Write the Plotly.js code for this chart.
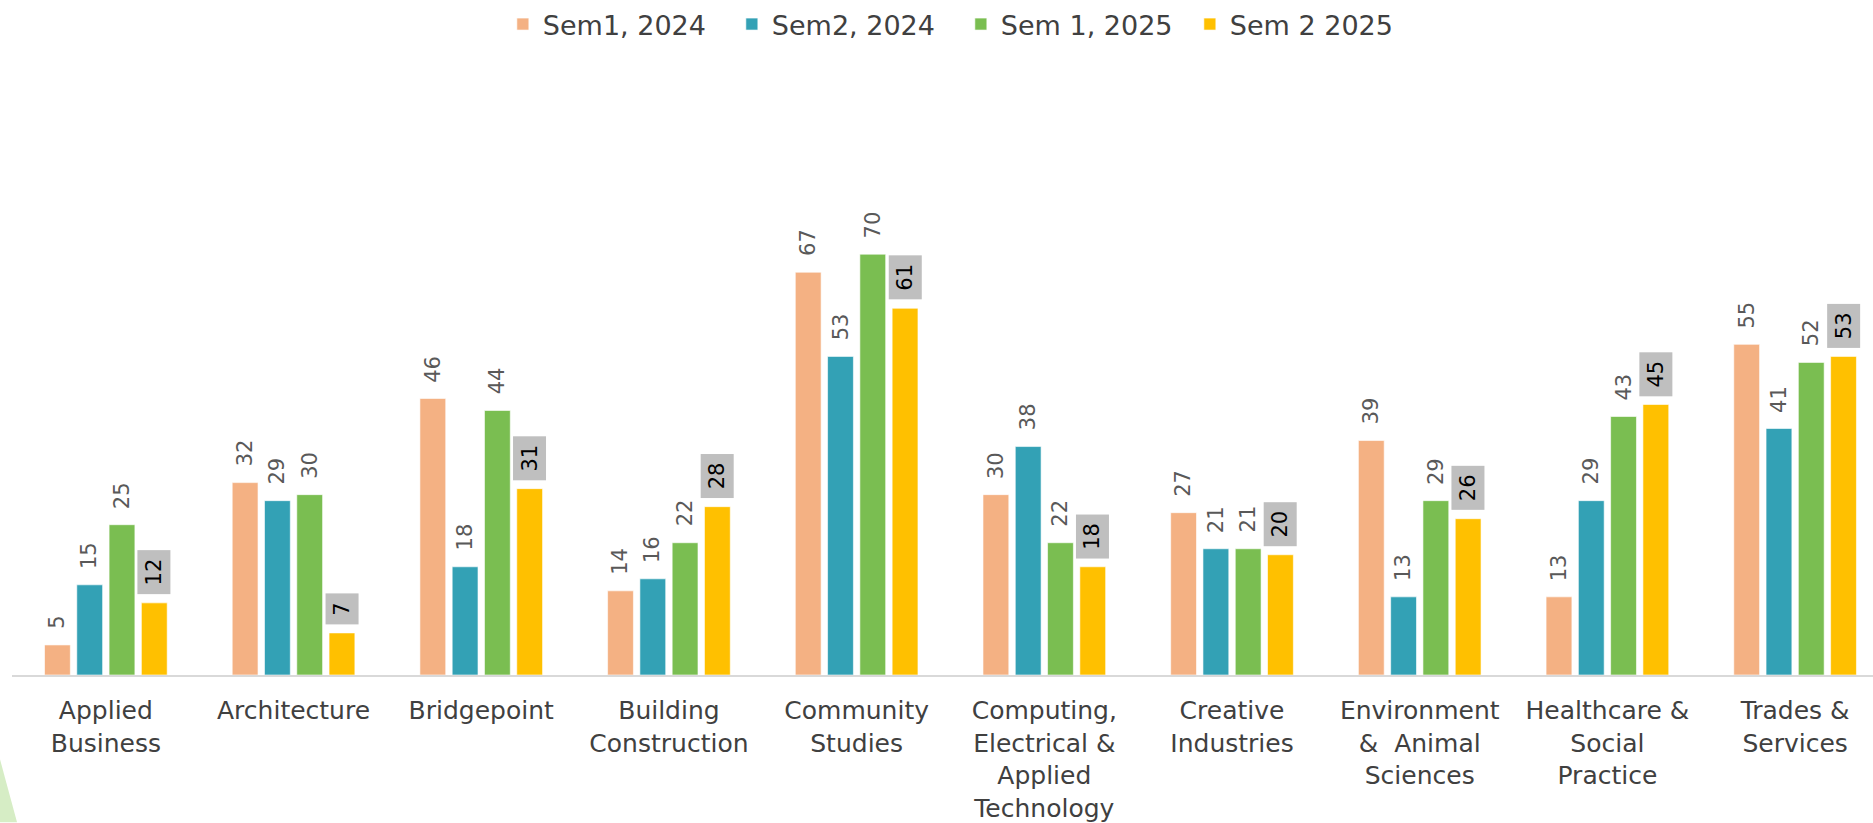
<!DOCTYPE html>
<html>
<head>
<meta charset="utf-8">
<script src="https://cdn.plot.ly/plotly-3.0.1.min.js"></script>
<style>
  html, body { margin: 0; padding: 0; background: #ffffff; }
  #chart { width: 1873px; height: 823px; }
</style>
</head>
<body>
<div id="chart"></div>
<script>
// categories (x axis)
var categories = [
  "Applied<br>Business",
  "Architecture",
  "Bridgepoint",
  "Building<br>Construction",
  "Community<br>Studies",
  "Computing,<br>Electrical &<br>Applied<br>Technology",
  "Creative<br>Industries",
  "Environment<br>& \u00a0Animal<br>Sciences",
  "Healthcare &<br>Social<br>Practice",
  "Trades &<br>Services"
];

// series
var seriesNames = ["Sem1, 2024", "Sem2, 2024", "Sem 1, 2025", "Sem 2 2025"];
var sem1_2024 = [5, 32, 46, 14, 67, 30, 27, 39, 13, 55];
var sem2_2024 = [15, 29, 18, 16, 53, 38, 21, 13, 29, 41];
var sem1_2025 = [25, 30, 44, 22, 70, 22, 21, 29, 43, 52];
var sem2_2025 = [12, 7, 31, 28, 61, 18, 20, 26, 45, 53];

var seriesValues = [sem1_2024, sem2_2024, sem1_2025, sem2_2025];
var seriesColors = ["#F4B183", "#33A1B5", "#7ABE51", "#FFC000"];

var BARGAP = 0.312;
var GROUPGAP = 0.2;
var pitch = (1 - BARGAP) / seriesValues.length;

var traces = [];
var annotations = [];

for (var s = 0; s < seriesValues.length; s++) {
  traces.push({
    type: 'bar',
    name: seriesNames[s],
    x: categories,
    y: seriesValues[s],
    marker: {
      color: seriesColors[s],
      line: { color: 'rgba(255,255,255,0.6)', width: 1 }
    },
    hoverinfo: 'x+y+name'
  });

  // data labels, rotated; last series gets the grey box
  var offset = (s - (seriesValues.length - 1) / 2) * pitch;
  var boxed = (s == seriesValues.length - 1);
  for (var i = 0; i < categories.length; i++) {
    var v = seriesValues[s][i];
    annotations.push({
      xref: 'x', yref: 'y',
      x: i + offset,
      y: v,
      text: boxed ? '\u2009' + v + '\u2009' : String(v),
      textangle: -90,
      showarrow: false,
      xanchor: 'center',
      yanchor: 'bottom',
      yshift: boxed ? 8 : 14,
      bgcolor: boxed ? '#BFBFBF' : 'rgba(0,0,0,0)',
      borderpad: boxed ? 4 : 1,
      font: { family: 'DejaVu Sans, Verdana, sans-serif', size: 21, color: boxed ? '#000000' : '#595959' }
    });
  }
}

var layout = {
  width: 1873,
  height: 823,
  margin: { l: 12, r: 0, t: 163.5, b: 147.5, autoexpand: false },
  paper_bgcolor: '#ffffff',
  plot_bgcolor: '#ffffff',
  font: { family: 'DejaVu Sans, Verdana, sans-serif', color: '#404040' },
  barmode: 'group',
  bargap: BARGAP,
  bargroupgap: GROUPGAP,
  showlegend: true,
  legend: {
    orientation: 'h',
    xref: 'container', yref: 'container',
    x: 0.513, xanchor: 'center',
    y: 1, yanchor: 'top',
    font: { size: 27, color: '#404040' },
    entrywidthmode: 'pixels',
    entrywidth: 184,
    traceorder: 'normal'
  },
  xaxis: {
    type: 'category',
    range: [-0.5, 9.415],
    showline: true,
    linecolor: '#D9D9D9',
    linewidth: 2,
    ticks: '',
    ticklabelstandoff: 12,
    showgrid: false,
    zeroline: false,
    tickfont: { size: 25, color: '#404040' },
    tickangle: 0,
    fixedrange: true
  },
  yaxis: {
    range: [0, 85],
    visible: false,
    showgrid: false,
    zeroline: false,
    fixedrange: true
  },
  annotations: annotations,
  shapes: [{
    // light green corner decoration bottom-left
    type: 'path',
    xref: 'paper', yref: 'paper',
    path: 'M -0.00645,-0.165 L 0.0027,-0.288 L -0.00645,-0.288 Z',
    fillcolor: '#D6EDC5',
    line: { width: 0 },
    layer: 'below'
  }]
};

Plotly.newPlot('chart', traces, layout, { displayModeBar: false, staticPlot: true });
</script>
</body>
</html>
